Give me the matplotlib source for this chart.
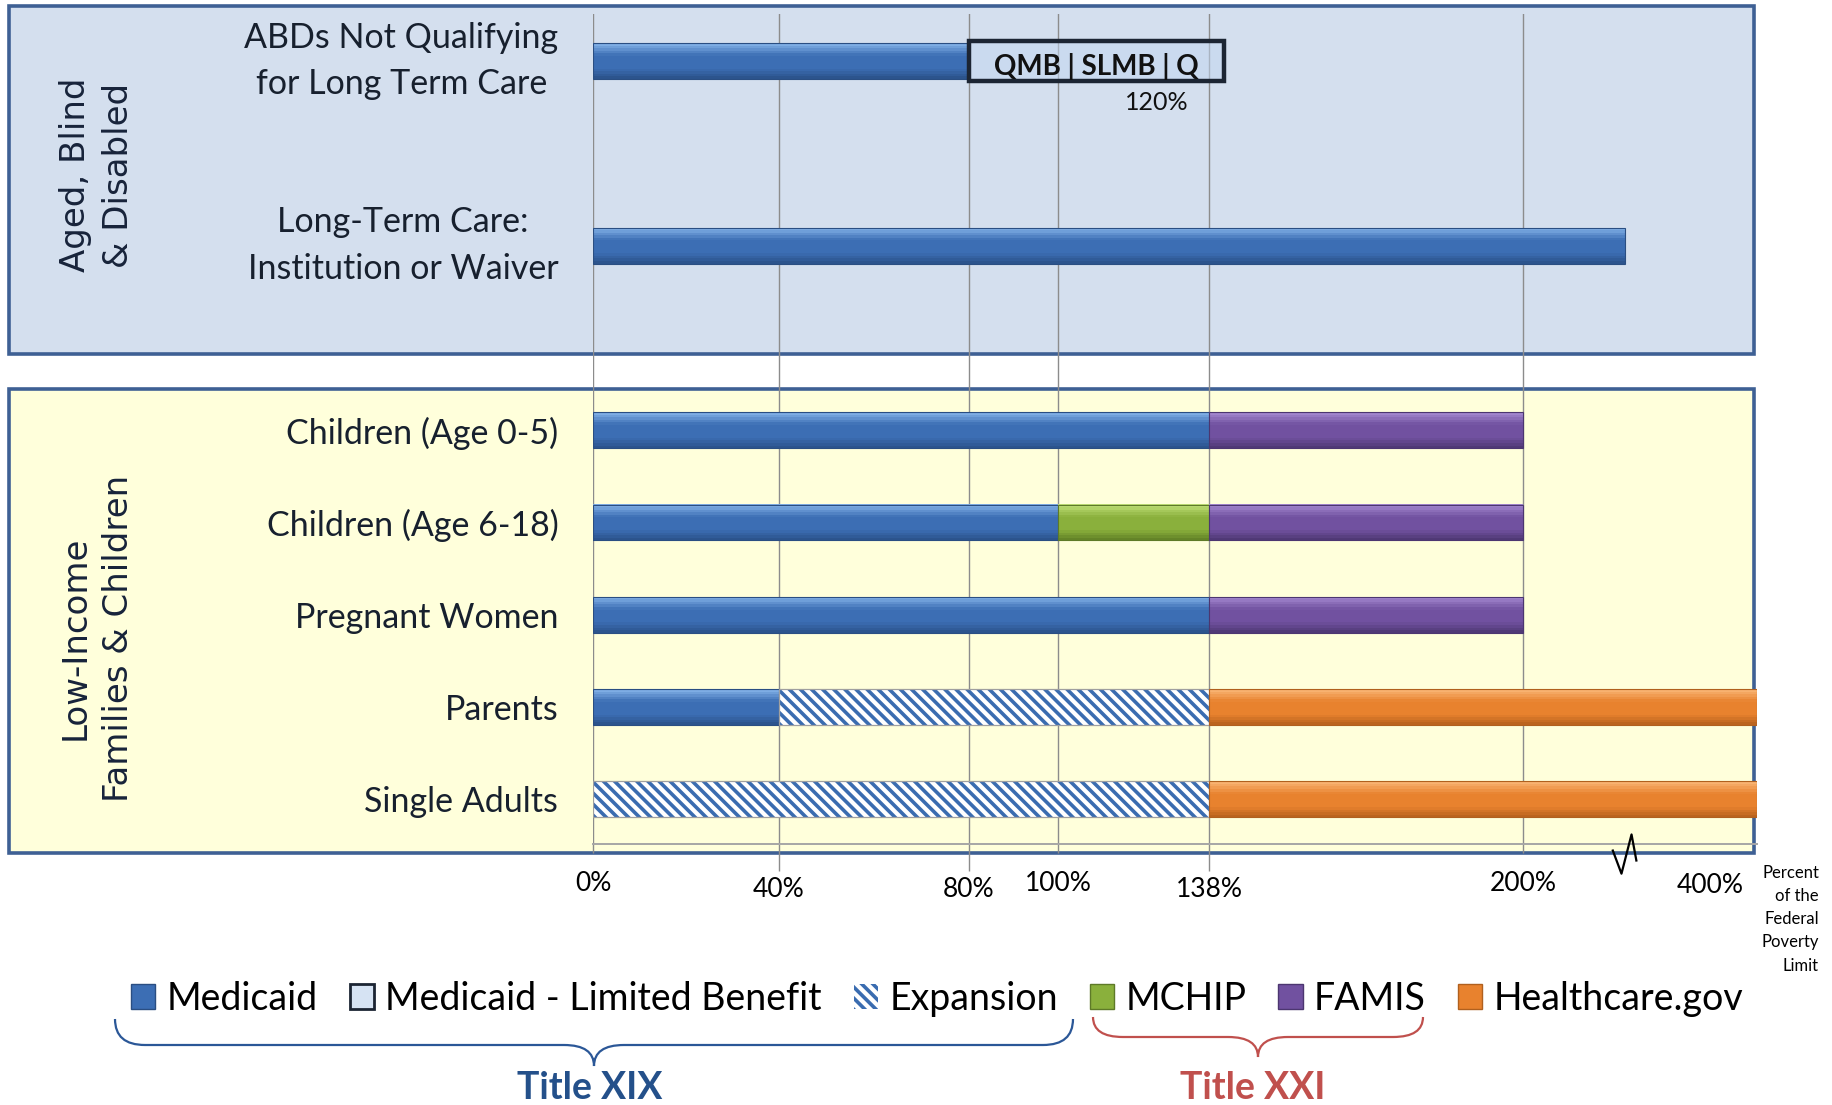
import numpy as np
import matplotlib
matplotlib.use('Agg')
import matplotlib.pyplot as plt
from matplotlib.patches import Rectangle, Patch, PathPatch
from matplotlib.path import Path
from matplotlib.colors import to_rgb
import matplotlib.transforms as mtransforms

# ---- data ----
categories = ["ABDs Not Qualifying\nfor Long Term Care",
              "Long-Term Care:\nInstitution or Waiver",
              "Children (Age 0-5)",
              "Children (Age 6-18)",
              "Pregnant Women",
              "Parents",
              "Single Adults"]

# upper income limit (% FPL) of each program per category, 0 = not offered
medicaid = [80, 300, 138, 100, 138, 40, 0]
limited_benefit = [141, 0, 0, 0, 0, 0, 0]
expansion = [0, 0, 0, 0, 0, 138, 138]
mchip = [0, 0, 0, 138, 0, 0, 0]
famis = [0, 0, 200, 200, 200, 0, 0]
healthcare_gov = [0, 0, 0, 0, 0, 400, 400]

program_names = ["Medicaid", "Medicaid - Limited Benefit", "Expansion",
                 "MCHIP", "FAMIS", "Healthcare.gov"]
fpl_ticks = [0, 40, 80, 100, 138, 200, 400]
qmb_text = "QMB | SLMB | Q"
qmb_mark = 120
axis_break = 300

# ---- layout ----
W, H = 1833, 1105
def fx(x):
    return x / W
def fy(y):
    return 1 - y / H

slots = np.array([0, 2, 4, 5, 6, 7, 8])
bar_h = 0.39

# piecewise axis (the chart is not to scale)
knot_pct = [0, 40, 80, 100, 138, 200, 300, 400]
knot_pos = [0, 186, 376, 465, 616, 930, 1032, 1164]
def fwd(v):
    return np.interp(v, knot_pct, knot_pos)
def inv(p):
    return np.interp(p, knot_pos, knot_pct)

# (light top, body, dark bottom)
styles = {
    "Medicaid": dict(grad=("#86B4EA", "#3C6EB4", "#2A5088"), ec="#2A4E82"),
    "MCHIP": dict(grad=("#C2E27A", "#8AB03C", "#5F7E25"), ec="#5E7A28"),
    "FAMIS": dict(grad=("#A78BD2", "#7151A0", "#4C3670"), ec="#4C3670"),
    "Healthcare.gov": dict(grad=("#FAB877", "#E8822E", "#B5601C"), ec="#B0601E"),
}

def blend(c1, c2, t):
    a = np.array(to_rgb(c1))
    b = np.array(to_rgb(c2))
    return tuple(a + (b - a) * t)

plt.rcParams['hatch.linewidth'] = 2.6

fig = plt.figure(figsize=(W / 100, H / 100), dpi=100)

# panel backgrounds
p1 = Rectangle((fx(9), fy(354)), fx(1754) - fx(9), (354 - 6) / H, transform=fig.transFigure,
               fc="#D4DFEE", ec="#3E6094", lw=2.6, zorder=0)
p2 = Rectangle((fx(9), fy(853)), fx(1754) - fx(9), (853 - 389) / H, transform=fig.transFigure,
               fc="#FFFFDB", ec="#3E6094", lw=2.6, zorder=0)
fig.add_artist(p1)
fig.add_artist(p2)

ax = fig.add_axes([fx(593), fy(844), 1164 / W, (844 - 14) / H])
ax.set_zorder(2)
ax.patch.set_alpha(0)
ax.set_xscale('function', functions=(fwd, inv))
ax.set_xlim(0, 400)
ax.set_ylim((844 - 61) / 92.3, (14 - 61) / 92.3)

nb = 14
running = np.zeros(len(categories))
for name, upper in zip(program_names, [medicaid, limited_benefit, expansion, mchip, famis, healthcare_gov]):
    upper = np.array(upper, dtype=float)
    m = upper > 0
    left = running.copy()
    width = upper - left
    if name in styles:
        light, body, dark = styles[name]["grad"]
        for k in range(nb):
            t = (k + 0.5) / nb
            if t < 0.35:
                c = blend(light, body, t / 0.35)
            elif t < 0.7:
                c = body
            else:
                c = blend(body, dark, (t - 0.7) / 0.3)
            ax.barh(slots[m] - bar_h / 2 + bar_h * (k + 0.5) / nb, width[m], left=left[m],
                    height=bar_h / nb * 1.05, color=c, linewidth=0, zorder=3)
        ax.barh(slots[m], width[m], left=left[m], height=bar_h, fill=False,
                edgecolor=styles[name]["ec"], linewidth=0.8, zorder=3)
    elif name == "Expansion":
        ax.barh(slots[m], width[m], left=left[m], height=bar_h, color="white",
                edgecolor="#3A6CB0", linewidth=0, hatch="\\\\\\", zorder=3)
        ax.barh(slots[m], width[m], left=left[m], height=bar_h, fill=False,
                edgecolor="#A0A0A0", linewidth=0.9, zorder=3)
    else:
        ax.barh(slots[m], width[m], left=left[m], height=bar_h * 1.1,
                color=(0.76, 0.84, 0.94, 0.55), edgecolor="#1C2533", linewidth=3.2, zorder=4)
    running = np.maximum(running, upper)

# QMB box text
xt = ax.xaxis.get_transform()
qmb_lo = medicaid[0]
qmb_hi = limited_benefit[0]
mid = xt.inverted().transform(np.array([np.mean(xt.transform(np.array([qmb_lo, qmb_hi])))]))[0]
ax.annotate(qmb_text, xy=(mid, slots[0]), xytext=(0, -4), textcoords='offset points',
            ha='center', va='center', fontsize=20, fontweight='bold', family='Lato', color='#111111', zorder=6)
ax.annotate(f"{qmb_mark}%", xy=(qmb_mark, slots[0]), xytext=(14, -30), textcoords='offset points',
            ha='center', va='center', fontsize=18, family='Lato', color='#111111')

# axes styling
for s in ['top', 'left', 'right']:
    ax.spines[s].set_visible(False)
ax.spines['bottom'].set_color('#A6A6A6')
ax.spines['bottom'].set_linewidth(1.4)

short = [t for t in fpl_ticks if t in (0, 100, 200)]
longt = [t for t in fpl_ticks if t in (40, 80, 138)]
ax.set_xticks(short, [f"{t}%" for t in short])
ax.set_xticks(longt, [f"{t}%" for t in longt], minor=True)
ax.tick_params(axis='x', which='major', length=6.5, width=1, color='#8C8C8C', pad=13,
               labelsize=19, labelfontfamily='Lato')
ax.tick_params(axis='x', which='minor', length=19.5, width=1, color='#8C8C8C', pad=4,
               labelsize=19, labelfontfamily='Lato')
ax.grid(True, axis='x', which='both', color='#8C8C8C', lw=1)
ax.set_axisbelow(True)
ax.annotate(f"{fpl_ticks[-1]}%", xy=(fpl_ticks[-1], 0), xycoords=('data', 'axes fraction'),
            xytext=(-34, -30), textcoords='offset points', ha='center', va='center',
            fontsize=19, family='Lato')

ax.set_yticks(slots, categories)
ax.tick_params(axis='y', length=0, pad=25, labelsize=24.5, labelfontfamily='Lato', labelcolor='#17202E')
for lab in ax.get_yticklabels():
    lab.set_multialignment('center')
    lab.set_linespacing(1.55)
    if "\n" in lab.get_text():
        lab.set_verticalalignment('center')

# axis break zigzag
zig = Path([(-13, -5), (-4, -29), (6, 10), (11, -17)],
           [Path.MOVETO, Path.LINETO, Path.LINETO, Path.LINETO])
ax.plot([axis_break], [0], transform=mtransforms.blended_transform_factory(ax.transData, ax.transAxes),
        marker=zig, markersize=42, markerfacecolor='none', markeredgecolor='black',
        markeredgewidth=1.6, clip_on=False, zorder=7)

fig.text(fx(1819), fy(865), "Percent\nof the\nFederal\nPoverty\nLimit", ha='right', va='top',
         fontsize=12, family='Lato', linespacing=1.55)

# group labels
fig.text(fx(97), fy(175), "Aged, Blind\n& Disabled", rotation=90, ha='center', va='center',
         fontsize=24.5, family='DejaVu Sans', color='#17233A', linespacing=1.4)
fig.text(fx(97), fy(638), "Low-Income\nFamilies & Children", rotation=90, ha='center', va='center',
         fontsize=24.5, family='DejaVu Sans', color='#17233A', linespacing=1.4)

# legend
handles = []
for name in program_names:
    if name == "Medicaid - Limited Benefit":
        handles.append(Patch(fc="#D6E3F3", ec="#1C2533", lw=2))
    elif name == "Expansion":
        handles.append(Patch(fc="white", ec="#3A6CB0", lw=0, hatch="\\\\\\"))
    else:
        handles.append(Patch(fc=styles[name]["grad"][1], ec=styles[name]["ec"], lw=1))
leg = fig.legend(handles, program_names, loc='center', bbox_to_anchor=(fx(937), fy(999)), ncol=6,
                 frameon=False, prop={'family': 'Lato', 'size': 27}, handlelength=0.65,
                 handleheight=0.65, handletextpad=0.3, columnspacing=0.85)

# braces
def brace(x0, x1, ytop, ymid, ybot, color):
    xm = (x0 + x1) / 2
    r = 30
    pts = [(x0, ytop), (x0, ymid), (x0 + r, ymid), (xm - r, ymid), (xm, ymid), (xm, ybot),
           (xm, ymid), (xm + r, ymid), (x1 - r, ymid), (x1, ymid), (x1, ytop)]
    codes = [Path.MOVETO, Path.CURVE3, Path.CURVE3, Path.LINETO, Path.CURVE3, Path.CURVE3,
             Path.CURVE3, Path.CURVE3, Path.LINETO, Path.CURVE3, Path.CURVE3]
    pts = [(fx(a), fy(b)) for a, b in pts]
    fig.add_artist(PathPatch(Path(pts, codes), fill=False, ec=color, lw=1.6, transform=fig.transFigure))

brace(115, 1073, 1019, 1045, 1066, '#2B5797')
brace(1093, 1423, 1017, 1037, 1057, '#C0504D')
fig.text(fx(590), fy(1088), "Title XIX", ha='center', va='center', fontsize=27, fontweight='bold',
         family='Lato', color='#24508A')
fig.text(fx(1253), fy(1088), "Title XXI", ha='center', va='center', fontsize=27, fontweight='bold',
         family='Lato', color='#C0504D')

fig.savefig('out.png', dpi=100)
